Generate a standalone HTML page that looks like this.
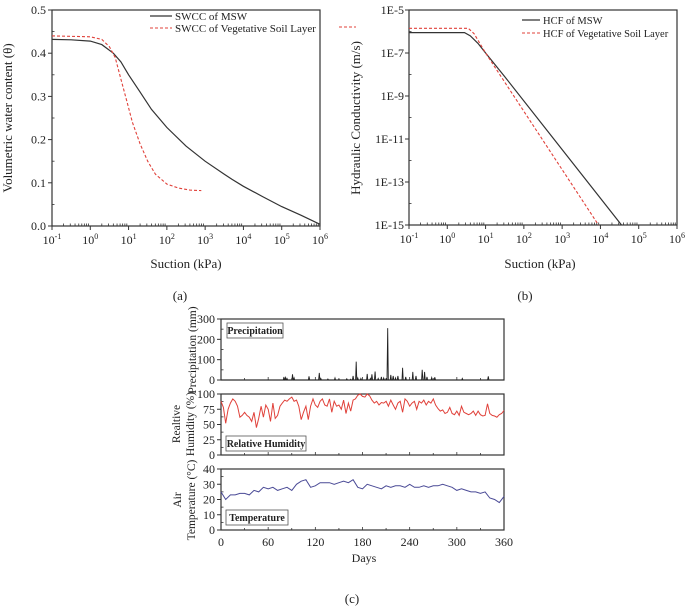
<!DOCTYPE html>
<html><head><meta charset="utf-8"><style>
html,body{margin:0;padding:0;background:#fff;}
svg{display:block;font-family:"Liberation Serif",serif;}
</style></head><body>
<svg id="fig" width="685" height="606" viewBox="0 0 685 606"></svg>
<script>
// ---- data ----
const swccMswLogS = [-1,-0.5,0,0.3,0.6,0.8,1,1.3,1.6,2,2.5,3,3.5,3.7,4,4.5,5,5.5,6];
const swccMswTheta = [0.432,0.431,0.428,0.42,0.40,0.38,0.35,0.31,0.27,0.228,0.185,0.15,0.12,0.108,0.092,0.068,0.045,0.025,0.004];
const swccVegLogS = [-1,0,0.3,0.5,0.65,0.8,0.95,1.1,1.3,1.5,1.7,2,2.3,2.6,2.9];
const swccVegTheta = [0.44,0.438,0.432,0.415,0.39,0.34,0.29,0.24,0.19,0.15,0.12,0.097,0.088,0.083,0.082];
const hcfMswLogS = [-1,0.45,0.6,0.8,1,1.5,4.55];
const hcfMswLogK = [-6.05,-6.05,-6.2,-6.55,-7,-8.1,-15];
const hcfVegLogS = [-1,0.55,0.7,0.85,1,3.95];
const hcfVegLogK = [-5.85,-5.85,-6.1,-6.55,-7,-15];
const xDecades = [-1,0,1,2,3,4,5,6];
const swccYTicks = [0,0.1,0.2,0.3,0.4,0.5];
const hcfYTicks = [-15,-13,-11,-9,-7,-5];
const precipDays = [80,82,84,91,93,112,125,127,136,145,150,160,165,168,172,174,178,186,190,192,196,200,204,207,210,212,216,219,222,225,231,235,244,248,256,259,262,268,272,307,340];
const precipMm = [15,12,8,28,10,18,35,8,5,10,4,6,4,20,90,10,8,30,8,28,42,8,15,10,5,255,25,20,10,20,60,15,40,20,50,40,15,12,14,8,18];
const rhDays = [];
for (let d = 0; d <= 360; d += 3) rhDays.push(d);
const rhValues = [88,78,52,75,85,92,88,80,62,65,70,65,62,55,70,45,60,80,62,82,75,55,85,60,65,80,85,90,88,92,95,88,90,80,58,70,80,58,80,92,82,78,88,92,82,80,92,70,88,80,82,75,90,68,85,72,90,92,98,100,96,95,100,97,90,85,88,82,86,85,88,80,90,82,75,85,88,70,92,88,80,85,88,75,88,85,90,82,88,85,92,82,76,72,74,68,70,78,68,66,72,65,80,70,68,66,68,72,65,72,66,64,65,84,68,65,64,62,66,68,73];
const tDays = [];
for (let d = 0; d <= 360; d += 6) tDays.push(d);
const tValues = [25,20,23,23,24,24,23,26,25,28,27,28,26,27,28,26,30,32,33,28,29,31,31,31,30,31,32,31,33,28,27,30,29,28,27,29,28,29,29,28,30,28,28,29,28,29,29,30,29,28,26,27,26,25,25,24,25,21,20,18,22];
const dayTicks = [0,60,120,180,240,300,360];

const NS = "http://www.w3.org/2000/svg";
const svg = document.getElementById('fig');
function mk(tag, attrs, parent) {
  const e = document.createElementNS(NS, tag);
  for (const k in attrs) e.setAttribute(k, attrs[k]);
  (parent || svg).appendChild(e);
  return e;
}
function txt(x, y, s, size, anchor, name, extra) {
  const t = mk('text', Object.assign({x: x, y: y, 'font-size': size, 'text-anchor': anchor || 'middle', fill: '#222'}, extra || {}));
  t.textContent = s;
  
  
  return t;
}
function line(x1, y1, x2, y2, stroke, w, name) {
  const l = mk('line', {x1: x1, y1: y1, x2: x2, y2: y2, stroke: stroke, 'stroke-width': w});
  
  
  return l;
}
function poly(xs, ys, fx, fy, stroke, w, dash, name) {
  const pts = xs.map((v, i) => fx(v).toFixed(1) + ',' + fy(ys[i]).toFixed(1)).join(' ');
  const p = mk('polyline', {points: pts, fill: 'none', stroke: stroke, 'stroke-width': w});
  if (dash) p.setAttribute('stroke-dasharray', dash);
  
  
  return p;
}
function logXAxis(L, R, B, fx) {
  xDecades.forEach(d => {
    line(fx(d), B, fx(d), B + 4, '#333', 1, 'x-major-tick');
    const t = txt(fx(d), B + 18, '10', 12, 'middle', 'x-tick-label');
    const s = mk('tspan', {dy: -5, 'font-size': 8}, t);
    s.textContent = String(d);
    if (d < 6) for (let m = 2; m <= 9; m++) {
      const x = fx(d + Math.log10(m));
      line(x, B, x, B - 2.5, '#333', 0.8, 'x-minor-tick');
    }
  });
}
function frame(L, T, R, B, name) {
  const r = mk('rect', {x: L, y: T, width: R - L, height: B - T, fill: 'none', stroke: '#333', 'stroke-width': 1.2});
  
  
}

// ---- Panel (a) ----
(function(){
  const L = 52, R = 320, T = 10, B = 226;
  const fx = v => L + (v + 1) / 7 * (R - L);
  const fy = v => B - v / 0.5 * (B - T);
  frame(L, T, R, B, 'swcc-plot-frame');
  swccYTicks.forEach(v => {
    line(L - 4, fy(v), L, fy(v), '#333', 1, 'y-major-tick');
    txt(L - 6, fy(v) + 4, v.toFixed(1), 12, 'end', 'y-tick-label');
    if (v < 0.5) line(L, fy(v + 0.05), L + 2.5, fy(v + 0.05), '#333', 0.8, 'y-minor-tick');
  });
  logXAxis(L, R, B, fx);
  poly(swccMswLogS, swccMswTheta, fx, fy, '#333', 1.2, null, 'swcc-msw-line');
  poly(swccVegLogS, swccVegTheta, fx, fy, '#e0413a', 1.1, '3,2', 'swcc-veg-line');
  line(150, 16, 172, 16, '#333', 1.2, 'legend-swatch-msw');
  txt(175, 20, 'SWCC of MSW', 11, 'start', 'legend-entry-msw');
  line(150, 28, 172, 28, '#e0413a', 1.1, 'legend-swatch-veg').setAttribute('stroke-dasharray', '3,2');
  txt(175, 32, 'SWCC of Vegetative Soil Layer', 11, 'start', 'legend-entry-veg');
  line(339, 27, 356, 27, '#e0413a', 1, 'stray-legend-dash').setAttribute('stroke-dasharray', '3,2');
  txt(186, 268, 'Suction (kPa)', 13, 'middle', 'x-axis-title-a');
  txt(12, 118, 'Volumetric water content (θ)', 13, 'middle', 'y-axis-title-a', {transform: 'rotate(-90 12 118)'});
  txt(180, 300, '(a)', 13, 'middle', 'panel-label-a');
})();

// ---- Panel (b) ----
(function(){
  const L = 409, R = 677, T = 10, B = 225;
  const fx = v => L + (v + 1) / 7 * (R - L);
  const fy = v => B - (v + 15) / 10 * (B - T);
  frame(L, T, R, B, 'hcf-plot-frame');
  hcfYTicks.forEach(v => {
    line(L - 4, fy(v), L, fy(v), '#333', 1, 'y-major-tick');
    txt(L - 5, fy(v) + 4, '1E' + v, 12, 'end', 'y-tick-label');
    if (v < -5) line(L, fy(v + 1), L + 2.5, fy(v + 1), '#333', 0.8, 'y-minor-tick');
  });
  logXAxis(L, R, B, fx);
  poly(hcfMswLogS, hcfMswLogK, fx, fy, '#333', 1.2, null, 'hcf-msw-line');
  poly(hcfVegLogS, hcfVegLogK, fx, fy, '#e0413a', 1.1, '3,2', 'hcf-veg-line');
  line(522, 20, 540, 20, '#333', 1.2, 'legend-swatch-msw');
  txt(543, 24, 'HCF of MSW', 10.5, 'start', 'legend-entry-msw');
  line(522, 33, 540, 33, '#e0413a', 1.1, 'legend-swatch-veg').setAttribute('stroke-dasharray', '3,2');
  txt(543, 37, 'HCF of Vegetative Soil Layer', 10.5, 'start', 'legend-entry-veg');
  txt(540, 268, 'Suction (kPa)', 13, 'middle', 'x-axis-title-b');
  txt(360, 118, 'Hydraulic Conductivity (m/s)', 13, 'middle', 'y-axis-title-b', {transform: 'rotate(-90 360 118)'});
  txt(525, 300, '(b)', 13, 'middle', 'panel-label-b');
})();

// ---- Panel (c) ----
(function(){
  const L = 221, R = 504;
  const fx = d => L + d / 360 * (R - L);
  function sub(T, B, max, step, ticks, name) {
    frame(L, T, R, B, name + '-frame');
    const fy = v => B - v / max * (B - T);
    ticks.forEach(v => {
      line(L - 4, fy(v), L, fy(v), '#333', 1, 'y-major-tick');
      txt(L - 6, fy(v) + 4, String(v), 12, 'end', 'y-tick-label');
      if (v < max) line(L, fy(v + step / 2), L + 2.5, fy(v + step / 2), '#333', 0.8, 'y-minor-tick');
    });
    dayTicks.forEach(d => {
      line(fx(d), B, fx(d), B - 3, '#333', 0.8, 'x-tick');
      if (d < 360) line(fx(d + 30), B, fx(d + 30), B - 2, '#333', 0.8, 'x-minor-tick');
    });
    return fy;
  }
  // precipitation
  let fy = sub(319, 380, 300, 100, [0,100,200,300], 'precip-panel');
  const px = [0], py = [0];
  precipDays.forEach((d, i) => { px.push(d - 0.8, d, d + 0.8); py.push(0, precipMm[i], 0); });
  px.push(360); py.push(0);
  poly(px, py, fx, fy, '#222', 0.9, null, 'precipitation-series');
  mk('rect', {x: 227, y: 323, width: 56, height: 15, fill: '#fff', stroke: '#555', 'stroke-width': 0.8});
  txt(255, 334, 'Precipitation', 10, 'middle', 'precip-label', {'font-weight': 'bold'});
  txt(196, 350, 'Precipitation (mm)', 11.5, 'middle', 'y-axis-title-precip', {transform: 'rotate(-90 196 350)'});
  // humidity
  fy = sub(394, 455, 100, 25, [0,25,50,75,100], 'humidity-panel');
  poly(rhDays, rhValues, fx, fy, '#e0413a', 1, null, 'humidity-series');
  mk('rect', {x: 226, y: 436, width: 80, height: 15, fill: '#fff', stroke: '#555', 'stroke-width': 0.8});
  txt(266, 447, 'Relative Humidity', 10, 'middle', 'humidity-label', {'font-weight': 'bold'});
  txt(180, 424, 'Realtive', 11.5, 'middle', 'y-axis-title-rh-1', {transform: 'rotate(-90 180 424)'});
  txt(194, 424, 'Humidity (%)', 11.5, 'middle', 'y-axis-title-rh-2', {transform: 'rotate(-90 194 424)'});
  // temperature
  fy = sub(469, 530, 40, 10, [0,10,20,30,40], 'temperature-panel');
  poly(tDays, tValues, fx, fy, '#4a4a96', 1, null, 'temperature-series');
  mk('rect', {x: 226, y: 510, width: 62, height: 15, fill: '#fff', stroke: '#555', 'stroke-width': 0.8});
  txt(257, 521, 'Temperature', 10, 'middle', 'temperature-label', {'font-weight': 'bold'});
  txt(181, 500, 'Air', 11.5, 'middle', 'y-axis-title-t-1', {transform: 'rotate(-90 181 500)'});
  txt(195, 500, 'Temperature (°C)', 11.5, 'middle', 'y-axis-title-t-2', {transform: 'rotate(-90 195 500)'});
  dayTicks.forEach(d => txt(fx(d), 546, String(d), 12, 'middle', 'day-tick-label'));
  txt(364, 562, 'Days', 12, 'middle', 'x-axis-title-days');
  txt(352, 603, '(c)', 13, 'middle', 'panel-label-c');
})();
</script>
</body></html>
